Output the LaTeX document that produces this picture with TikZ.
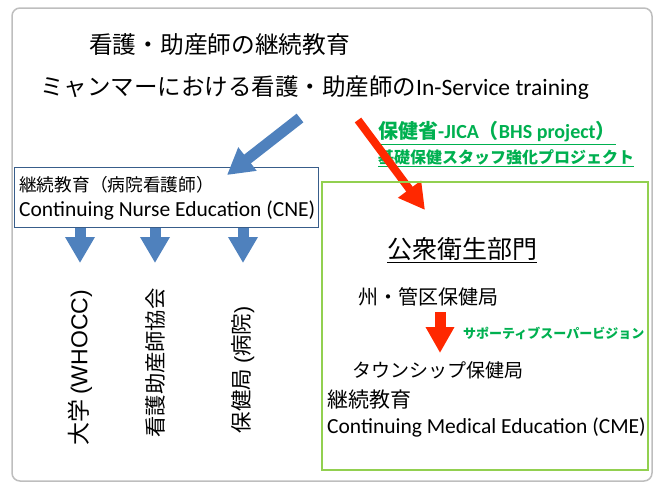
\documentclass[tikz,border=0pt]{standalone}
\usepackage{fontspec}
\setmainfont{Carlito}
\newfontfamily\jp{Noto Sans CJK JP}
\newfontfamily\arial{Liberation Sans}
\usepackage{tikz}
\usetikzlibrary{arrows.meta}
\definecolor{arrowblue}{RGB}{79,129,189}
\definecolor{boxblue}{RGB}{56,93,138}
\definecolor{arrowred}{RGB}{255,40,0}
\definecolor{textgreen}{RGB}{0,176,80}
\definecolor{boxgreen}{RGB}{146,208,80}
\definecolor{framegray}{RGB}{190,190,190}

\newcommand{\fs}[1]{\fontsize{#1}{#1}\selectfont}

\begin{document}
\begin{tikzpicture}[x=1pt,y=-1pt,
    txt/.style={inner sep=0pt,anchor=west},
    vtxt/.style={inner sep=0pt,rotate=90},
    green txt/.style={txt,text=textgreen,font=\bfseries},
    blue arrow/.style={arrowblue,line width=11pt,-{Triangle[width=28pt,length=26pt]}},
    red arrow/.style={arrowred,line width=#1,-{Triangle[width=27pt,length=26pt]}}]
    \useasboundingbox (0,0) rectangle (661,485);
    \draw[framegray,line width=1.5pt,rounded corners=8pt] (12,8) rectangle (652,481);

    % heading
    \node[txt] (title) at (89,45) {\jp\fs{23.7}看護・助産師の継続教育};
    \node[txt] (sub) at (40,88) {{\jp\fs{23.5}ミャンマーにおける看護・助産師の}\fs{23.5}In-Service training};

    % hospital side
    \node[draw=boxblue,line width=0.8pt,anchor=north west,minimum width=304pt,minimum height=60pt,inner sep=0pt] (cne) at (14,167) {};
    \node[txt] (cnejp) at (19,185) {\jp\fs{17.7}継続教育（病院看護師）};
    \node[txt] (cneen) at (19,210) {\fs{21.5}Continuing Nurse Education (CNE)};
    \coordinate (bstart) at (300,118);
    \coordinate (bend) at (227,175);
    \draw[blue arrow] (bstart) -- (bend);

    \node[vtxt] (univ) at (80,368) {\fs{23}{\jp 大学} \arial(WHOCC)};
    \node[vtxt] (assoc) at (155,363) {\jp\fs{21.3}看護助産師協会};
    \node[vtxt] (hosp) at (243,370) {\fs{21.5}{\jp 保健局} \arial({\jp 病院})};
    \foreach \n in {univ,assoc,hosp} {
      \coordinate (\n tip) at (\n |- 0,263);
      \draw[blue arrow] (cne.south -| \n) -- (\n tip);
    }

    % public health side
    \node[green txt] (jica) at (378,133) {\fs{20}\underline{{\jp 保健省}-JICA{\jp （}BHS project{\jp ）}}};
    \node[green txt] (bhs) at (378,158) {\jp\fs{16}\underline{基礎保健スタッフ強化プロジェクト}};
    \coordinate (rstart) at (358,120);
    \coordinate (rend) at (425,210);
    \draw[red arrow=8pt] (rstart) -- (rend);

    \draw[boxgreen,line width=2pt] (322,182) rectangle (648,470);
    \node[txt] (ph) at (387,250) {\jp\fs{25}\underline{公衆衛生部門}};
    \node[txt] (state) at (358,297) {\jp\fs{20}州・管区保健局};
    \node[txt] (town) at (352,370) {\jp\fs{19}タウンシップ保健局};
    \coordinate (sv) at (440,312);
    \coordinate (svtip) at (440,353);
    \draw[red arrow=11pt] (sv) -- (svtip);
    \node[green txt] (super) at (463,333) {\jp\fs{13}サポーティブスーパービジョン};
    \node[txt] (cmejp) at (327,400) {\jp\fs{21}継続教育};
    \node[txt] (cmeen) at (327,427) {\fs{21.5}Continuing Medical Education (CME)};
\end{tikzpicture}
\end{document}
